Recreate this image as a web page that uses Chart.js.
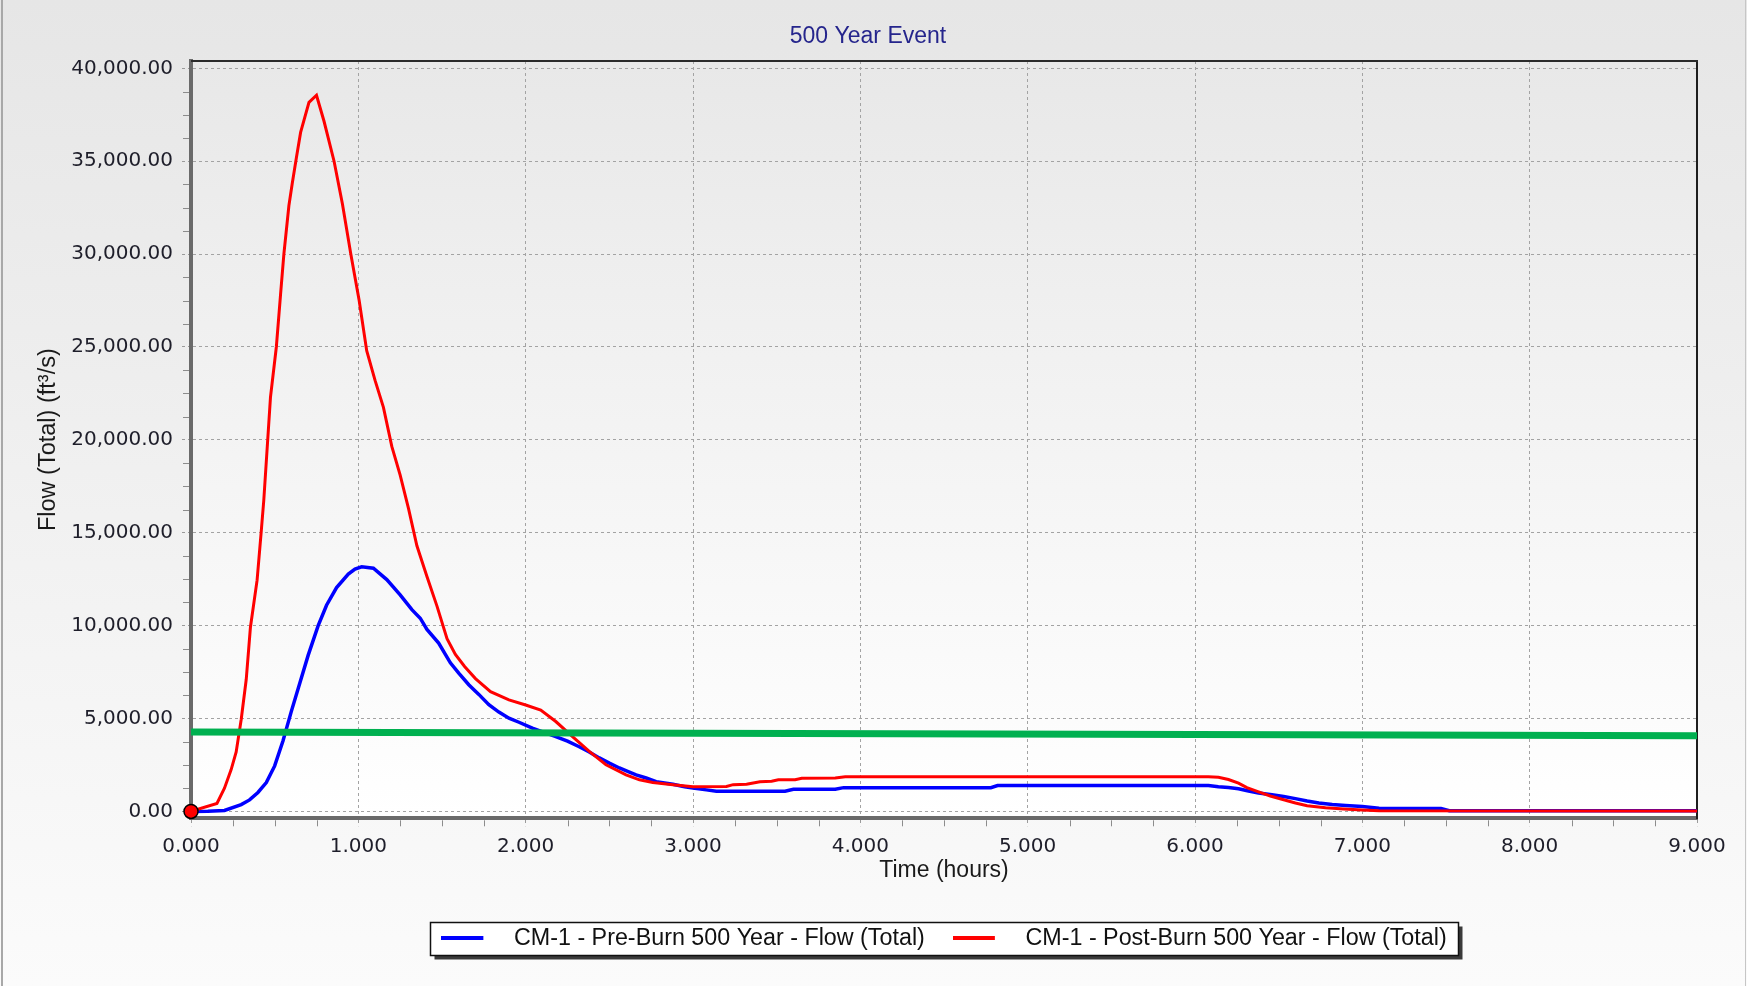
<!DOCTYPE html>
<html>
<head>
<meta charset="utf-8">
<title>500 Year Event</title>
<script src="https://cdn.jsdelivr.net/npm/chart.js@4.4.1/dist/chart.umd.min.js"></script>
<style>
  html, body { margin: 0; padding: 0; background: #ffffff; }
  #wrap { width: 1747px; height: 986px; }
  canvas { display: block; }
</style>
</head>
<body>
<div id="wrap"><canvas id="chart" width="1747" height="986"></canvas></div>
<script>
// ---- Hydrograph data (time in hours, flow in ft³/s) ----
const preBurnHours = [
  0, 0.10, 0.20, 0.30, 0.35, 0.40, 0.45, 0.50, 0.55, 0.60, 0.65, 0.70, 0.76, 0.81, 0.87, 0.94, 0.98, 1.02,
  1.09, 1.17, 1.25, 1.32, 1.37, 1.41, 1.48, 1.55, 1.60, 1.66, 1.72, 1.78, 1.84, 1.90, 1.96, 2.04, 2.11,
  2.18, 2.25, 2.32, 2.38, 2.44, 2.50, 2.56, 2.62, 2.66, 2.72, 2.78, 2.88, 2.95, 3.00, 3.08, 3.14, 3.55,
  3.60, 3.85, 3.90, 4.78, 4.82, 6.08, 6.14, 6.20, 6.26, 6.32, 6.38, 6.46, 6.53, 6.60, 6.67, 6.74, 6.82,
  6.90, 7.00, 7.10, 7.47, 7.52, 9.00
];
const preBurnFlow = [
  0, 5, 50, 370, 620, 1020, 1550, 2450, 3800, 5400, 6900, 8400, 10000, 11100, 12050, 12780, 13050, 13170,
  13090, 12480, 11660, 10860, 10400, 9800, 9060, 8000, 7450, 6820, 6300, 5750, 5350, 5020, 4800, 4480, 4250,
  4030, 3780, 3480, 3200, 2880, 2600, 2340, 2120, 1970, 1800, 1600, 1460, 1330, 1260, 1160, 1090, 1090,
  1190, 1190, 1280, 1280, 1390, 1390, 1330, 1290, 1220, 1100, 990, 900, 800, 690, 560, 450, 370,
  320, 260, 170, 160, 40, 30
];

const postBurnHours = [
  0, 0.155, 0.20, 0.24, 0.27, 0.30, 0.33, 0.355, 0.395, 0.42, 0.435, 0.475, 0.51, 0.535, 0.555, 0.585,
  0.605, 0.63, 0.655, 0.705, 0.75, 0.795, 0.855, 0.905, 0.955, 1.005, 1.05, 1.10, 1.15, 1.20, 1.25, 1.30,
  1.35, 1.41, 1.47, 1.53, 1.58, 1.635, 1.70, 1.79, 1.90, 2.00, 2.09, 2.18, 2.28, 2.38, 2.48, 2.60, 2.68,
  2.76, 2.88, 3.00, 3.20, 3.24, 3.32, 3.40, 3.47, 3.51, 3.61, 3.65, 3.85, 3.91, 6.08, 6.14, 6.20, 6.26,
  6.31, 6.38, 6.45, 6.53, 6.60, 6.67, 6.78, 6.89, 7.00, 7.10, 9.00
];
const postBurnFlow = [
  0, 430, 1250, 2250, 3200, 4950, 7100, 9900, 12450, 15100, 16750, 22300, 25000, 27800, 30000, 32600,
  33800, 35200, 36550, 38170, 38550, 37150, 35000, 32700, 30000, 27500, 24800, 23200, 21750, 19650, 18100, 16300,
  14300, 12650, 11050, 9300, 8450, 7800, 7150, 6450, 6000, 5730, 5460, 4840, 4030, 3230, 2510, 1970, 1700,
  1560, 1435, 1330, 1340, 1440, 1460, 1600, 1620, 1700, 1710, 1790, 1800, 1870, 1870, 1840, 1720, 1520,
  1280, 1050, 830, 630, 450, 310, 200, 130, 80, 30, 20
];

// Reference flow line across the event window
const thresholdHours = [0, 9];
const thresholdFlow = [4270, 4080];

// Axis ticks
const xTickValues = [0, 1, 2, 3, 4, 5, 6, 7, 8, 9];
const yTickValues = [0, 5000, 10000, 15000, 20000, 25000, 30000, 35000, 40000];
const minorDivisions = 4;

const seriesLabels = [
  'CM-1 - Pre-Burn 500 Year - Flow (Total)',
  'CM-1 - Post-Burn 500 Year - Flow (Total)'
];

// ---- helpers ----
const toPoints = (xs, ys) => xs.map((x, i) => ({ x: x, y: ys[i] }));

function minorValues(majors) {
  const out = [];
  for (let i = 0; i < majors.length - 1; i++) {
    const step = (majors[i + 1] - majors[i]) / minorDivisions;
    for (let k = 1; k < minorDivisions; k++) out.push(majors[i] + k * step);
  }
  return out;
}
const xMinorValues = minorValues(xTickValues);
const yMinorValues = minorValues(yTickValues);

// short line swatch used as the legend marker
function lineSwatch(color) {
  const c = document.createElement('canvas');
  c.width = 61; c.height = 4;
  const g = c.getContext('2d');
  g.fillStyle = color;
  g.fillRect(0, 0, 42, 4);
  return c;
}

const SANS = '"Liberation Sans", Arial, sans-serif';
const VERD = '"DejaVu Sans", Verdana, sans-serif';

// Backgrounds, legend frame, plot frame and minor ticks
const chartDecor = {
  id: 'chartDecor',
  beforeDraw(chart) {
    const { ctx, width, height, chartArea: a } = chart;
    ctx.save();
    let g = ctx.createLinearGradient(0, 0, 0, height);
    g.addColorStop(0, '#e6e6e6');
    g.addColorStop(1, '#fbfbfb');
    ctx.fillStyle = g;
    ctx.fillRect(0, 0, width, height);

    ctx.fillStyle = '#a8a8a8';
    ctx.fillRect(1, 0, 2, height);
    ctx.fillStyle = '#c6c6c6';
    ctx.fillRect(width - 2, 0, 1, height);

    g = ctx.createLinearGradient(0, a.top, 0, a.bottom);
    g.addColorStop(0, '#e8e8e8');
    g.addColorStop(1, '#ffffff');
    ctx.fillStyle = g;
    ctx.fillRect(a.left, a.top, a.right - a.left, a.bottom - a.top);

    const hb = chart.legend && chart.legend.legendHitBoxes;
    if (hb && hb.length) {
      const first = hb[0], last = hb[hb.length - 1];
      const cy = first.top + first.height / 2;
      const x0 = Math.round(first.left - 11) + 0.5;
      const x1 = Math.round(last.left + last.width + 11.5) + 0.5;
      const y0 = Math.round(cy - 16.5) + 0.5;
      const y1 = Math.round(cy + 16.5) + 0.5;
      ctx.fillStyle = '#3a3a3a';
      ctx.fillRect(x0 + 4, y0 + 4, x1 - x0, y1 - y0);
      ctx.fillStyle = '#ffffff';
      ctx.fillRect(x0, y0, x1 - x0, y1 - y0);
      ctx.strokeStyle = '#111111';
      ctx.lineWidth = 1.5;
      ctx.strokeRect(x0, y0, x1 - x0, y1 - y0);
    }
    ctx.restore();
  },
  beforeDatasetsDraw(chart) {
    const { ctx, chartArea: a, scales } = chart;
    ctx.save();
    ctx.strokeStyle = '#8c8c8c';
    ctx.lineWidth = 1;
    ctx.beginPath();
    yMinorValues.forEach(v => {
      const p = Math.round(scales.y.getPixelForValue(v)) + 0.5;
      ctx.moveTo(a.left - 8, p);
      ctx.lineTo(a.left - 2, p);
    });
    xMinorValues.forEach(v => {
      const p = Math.round(scales.x.getPixelForValue(v)) + 0.5;
      ctx.moveTo(p, a.bottom + 2);
      ctx.lineTo(p, a.bottom + 8);
    });
    ctx.stroke();

    ctx.strokeStyle = '#2a2a2a';
    ctx.lineWidth = 2;
    ctx.beginPath();
    ctx.moveTo(a.left, a.top);
    ctx.lineTo(a.right + 1, a.top);
    ctx.stroke();
    ctx.restore();
  }
};

Chart.defaults.font.family = VERD;

new Chart(document.getElementById('chart'), {
  type: 'line',
  data: {
    datasets: [
      {
        label: seriesLabels[0],
        data: toPoints(preBurnHours, preBurnFlow),
        borderColor: '#0000ff',
        backgroundColor: '#0000ff',
        borderWidth: 3.5,
        pointRadius: 0,
        pointStyle: lineSwatch('#0000ff'),
        tension: 0,
        order: 2
      },
      {
        label: seriesLabels[1],
        data: toPoints(postBurnHours, postBurnFlow),
        borderColor: '#ff0000',
        backgroundColor: '#ff0000',
        borderWidth: 3,
        pointRadius: 0,
        pointStyle: lineSwatch('#ff0000'),
        tension: 0,
        order: 1
      },
      {
        label: 'Threshold',
        data: toPoints(thresholdHours, thresholdFlow),
        borderColor: '#00b050',
        borderWidth: 7,
        borderCapStyle: 'round',
        pointRadius: 0,
        order: 0
      },
      {
        label: 'Cursor',
        data: [{ x: postBurnHours[0], y: postBurnFlow[0] }],
        showLine: false,
        pointRadius: 7,
        pointBackgroundColor: '#ff0000',
        pointBorderColor: '#000000',
        pointBorderWidth: 1.5,
        clip: false,
        order: -1
      }
    ]
  },
  options: {
    responsive: false,
    animation: false,
    devicePixelRatio: 1,
    events: [],
    layout: { padding: { left: 0, right: 11, top: 0, bottom: 26 } },
    plugins: {
      title: {
        display: true,
        text: '500 Year Event',
        color: '#25258c',
        font: { family: SANS, size: 23, weight: 'normal' },
        padding: { top: 22.9, bottom: 10.5 }
      },
      legend: {
        display: true,
        position: 'bottom',
        fullSize: false,
        labels: {
          usePointStyle: true,
          pointStyleWidth: 61,
          padding: 28,
          color: '#111111',
          font: { family: SANS, size: 23.3 },
          filter: item => item.datasetIndex < 2,
          sort: (a, b) => a.datasetIndex - b.datasetIndex
        }
      },
      tooltip: { enabled: false }
    },
    scales: {
      x: {
        type: 'linear',
        position: 'bottom',
        min: 0,
        max: 9,
        afterBuildTicks: s => { s.ticks = xTickValues.map(v => ({ value: v })); },
        afterFit: s => { s.height = 80.4; },
        ticks: {
          autoSkip: false,
          maxRotation: 0,
          padding: 8.5,
          color: '#1e1e2a',
          font: { family: VERD, size: 20 },
          callback: v => Number(v).toFixed(3)
        },
        grid: {
          color: '#a3a3a3',
          lineWidth: 1,
          tickLength: 8,
          tickColor: '#9a9a9a',
          tickBorderDash: [3, 3]
        },
        border: { display: true, color: '#6a6a6a', width: 4, dash: [3, 3] },
        title: {
          display: true,
          text: 'Time (hours)',
          color: '#1a1a1a',
          font: { family: SANS, size: 23 },
          padding: { top: 0, bottom: 14 }
        }
      },
      y: {
        type: 'linear',
        position: 'left',
        min: -370,
        max: 40394,
        afterBuildTicks: s => { s.ticks = yTickValues.map(v => ({ value: v })); },
        afterFit: s => { s.width = 191; },
        ticks: {
          padding: 9,
          color: '#1e1e2a',
          font: { family: VERD, size: 20 },
          callback: v => Number(v).toLocaleString('en-US', { minimumFractionDigits: 2, maximumFractionDigits: 2 })
        },
        grid: {
          color: '#a3a3a3',
          lineWidth: 1,
          tickLength: 9,
          tickColor: '#9a9a9a',
          tickBorderDash: [3, 3]
        },
        border: { display: true, color: '#6a6a6a', width: 4, dash: [3, 3] },
        title: {
          display: true,
          text: 'Flow (Total) (ft³/s)',
          color: '#1a1a1a',
          font: { family: SANS, size: 23.5 },
          padding: { top: 34.7, bottom: 0 }
        }
      },
      frameRight: {
        type: 'linear',
        position: 'right',
        display: true,
        afterFit: s => { s.width = 39; },
        ticks: { display: false },
        grid: { display: false, drawTicks: false },
        border: { display: true, color: '#1e1e1e', width: 2 }
      }
    }
  },
  plugins: [chartDecor]
});
</script>
</body>
</html>
